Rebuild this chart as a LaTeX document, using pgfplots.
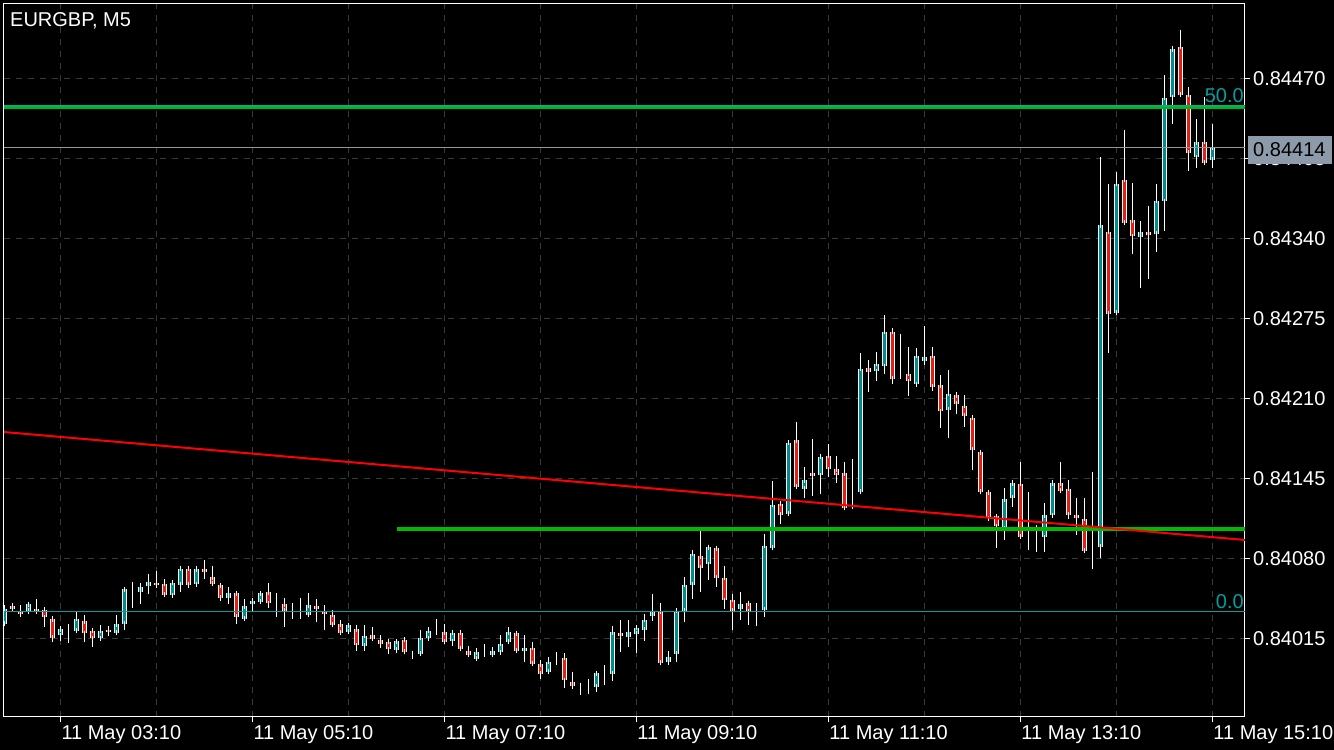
\documentclass[border=0pt]{standalone}
\usepackage{pgfplots}
\pgfplotsset{compat=1.18}
\usepackage{pgfplotstable}
\usepackage{fontspec}
\setmainfont{Liberation Sans}
\definecolor{bull}{RGB}{0,140,140}
\definecolor{bear}{RGB}{230,30,20}
\definecolor{gridc}{RGB}{58,58,58}
\definecolor{fibc}{RGB}{0,160,160}
\definecolor{boxc}{RGB}{140,154,170}
\definecolor{hgreen}{RGB}{0,185,0}
\definecolor{fibtop}{RGB}{0,175,130}
\definecolor{pline}{RGB}{150,150,150}
\pgfplotstableread{
k o h l c
0 0.84028 0.84042 0.84027 0.84040
1 0.84042 0.84043 0.84037 0.84039
2 0.84039 0.84042 0.84035 0.84036
3 0.84037 0.84042 0.84035 0.84042
4 0.84040 0.84047 0.84036 0.84038
5 0.84038 0.84038 0.84024 0.84032
6 0.84031 0.84033 0.84012 0.84016
7 0.84017 0.84025 0.84013 0.84022
8 0.84022 0.84027 0.84011 0.84022
9 0.84021 0.84037 0.84021 0.84031
10 0.84030 0.84034 0.84012 0.84020
11 0.84021 0.84022 0.84008 0.84015
12 0.84016 0.84026 0.84015 0.84022
13 0.84022 0.84025 0.84017 0.84020
14 0.84020 0.84034 0.84018 0.84027
15 0.84027 0.84056 0.84022 0.84055
16 0.84054 0.84061 0.84040 0.84054
17 0.84053 0.84060 0.84043 0.84057
18 0.84058 0.84067 0.84051 0.84061
19 0.84061 0.84070 0.84057 0.84059
20 0.84060 0.84063 0.84049 0.84051
21 0.84050 0.84060 0.84048 0.84060
22 0.84060 0.84073 0.84053 0.84073
23 0.84073 0.84074 0.84056 0.84060
24 0.84060 0.84074 0.84059 0.84072
25 0.84072 0.84079 0.84063 0.84069
26 0.84066 0.84074 0.84059 0.84061
27 0.84059 0.84060 0.84045 0.84049
28 0.84049 0.84057 0.84043 0.84053
29 0.84052 0.84053 0.84027 0.84033
30 0.84032 0.84047 0.84032 0.84042
31 0.84043 0.84048 0.84037 0.84046
32 0.84046 0.84053 0.84044 0.84053
33 0.84053 0.84060 0.84040 0.84044
34 0.84043 0.84052 0.84032 0.84043
35 0.84042 0.84048 0.84024 0.84037
36 0.84034 0.84044 0.84031 0.84034
37 0.84036 0.84048 0.84031 0.84036
38 0.84035 0.84052 0.84035 0.84043
39 0.84042 0.84047 0.84028 0.84039
40 0.84038 0.84042 0.84022 0.84035
41 0.84035 0.84038 0.84024 0.84027
42 0.84026 0.84030 0.84019 0.84019
43 0.84020 0.84027 0.84020 0.84025
44 0.84024 0.84026 0.84005 0.84011
45 0.84010 0.84026 0.84005 0.84018
46 0.84018 0.84024 0.84013 0.84015
47 0.84014 0.84018 0.84007 0.84011
48 0.84013 0.84014 0.84002 0.84007
49 0.84006 0.84014 0.84003 0.84013
50 0.84014 0.84014 0.84002 0.84004
51 0.84004 0.84005 0.83998 0.84004
52 0.84003 0.84022 0.84002 0.84016
53 0.84016 0.84024 0.84015 0.84022
54 0.84021 0.84031 0.84018 0.84021
55 0.84021 0.84027 0.84012 0.84013
56 0.84014 0.84022 0.84009 0.84021
57 0.84021 0.84022 0.84007 0.84008
58 0.84005 0.84009 0.84001 0.84002
59 0.84000 0.84007 0.83998 0.84005
60 0.84004 0.84010 0.84000 0.84004
61 0.84002 0.84008 0.84001 0.84005
62 0.84005 0.84018 0.84002 0.84012
63 0.84013 0.84024 0.84012 0.84021
64 0.84020 0.84021 0.84003 0.84006
65 0.84006 0.84018 0.83996 0.84008
66 0.84008 0.84012 0.83995 0.83995
67 0.83995 0.83997 0.83982 0.83987
68 0.83988 0.84000 0.83986 0.83996
69 0.83999 0.84004 0.83993 0.83999
70 0.84000 0.84003 0.83975 0.83982
71 0.83981 0.83988 0.83974 0.83978
72 0.83977 0.83977 0.83969 0.83977
73 0.83975 0.83982 0.83970 0.83975
74 0.83976 0.83987 0.83971 0.83987
75 0.83986 0.83993 0.83977 0.83986
76 0.83987 0.84025 0.83980 0.84021
77 0.84020 0.84030 0.84004 0.84017
78 0.84016 0.84030 0.84008 0.84020
79 0.84019 0.84025 0.84003 0.84024
80 0.84023 0.84035 0.84013 0.84031
81 0.84034 0.84051 0.84029 0.84038
82 0.84038 0.84044 0.83993 0.83996
83 0.83997 0.84005 0.83993 0.84001
84 0.84003 0.84039 0.83996 0.84038
85 0.84039 0.84065 0.84028 0.84060
86 0.84060 0.84087 0.84047 0.84085
87 0.84083 0.84102 0.84053 0.84074
88 0.84075 0.84091 0.84062 0.84089
89 0.84089 0.84090 0.84057 0.84065
90 0.84065 0.84074 0.84039 0.84047
91 0.84047 0.84051 0.84022 0.84038
92 0.84039 0.84053 0.84030 0.84043
93 0.84043 0.84044 0.84026 0.84036
94 0.84036 0.84044 0.84025 0.84036
95 0.84038 0.84100 0.84032 0.84090
96 0.84090 0.84143 0.84087 0.84125
97 0.84125 0.84125 0.84108 0.84116
98 0.84116 0.84174 0.84115 0.84174
99 0.84176 0.84191 0.84137 0.84138
100 0.84138 0.84154 0.84129 0.84145
101 0.84150 0.84177 0.84131 0.84147
102 0.84148 0.84164 0.84132 0.84163
103 0.84164 0.84173 0.84146 0.84153
104 0.84154 0.84163 0.84141 0.84149
105 0.84150 0.84158 0.84120 0.84122
106 0.84123 0.84161 0.84120 0.84123
107 0.84135 0.84247 0.84135 0.84235
108 0.84236 0.84241 0.84215 0.84233
109 0.84232 0.84248 0.84224 0.84238
110 0.84237 0.84278 0.84230 0.84265
111 0.84265 0.84267 0.84222 0.84227
112 0.84229 0.84262 0.84226 0.84229
113 0.84230 0.84252 0.84212 0.84224
114 0.84222 0.84251 0.84220 0.84245
115 0.84242 0.84269 0.84237 0.84245
116 0.84245 0.84252 0.84216 0.84220
117 0.84221 0.84229 0.84186 0.84200
118 0.84202 0.84233 0.84178 0.84215
119 0.84213 0.84215 0.84197 0.84206
120 0.84204 0.84213 0.84187 0.84196
121 0.84195 0.84196 0.84152 0.84169
122 0.84167 0.84167 0.84134 0.84135
123 0.84134 0.84135 0.84112 0.84113
124 0.84114 0.84114 0.84088 0.84106
125 0.84105 0.84137 0.84095 0.84129
126 0.84130 0.84144 0.84122 0.84142
127 0.84141 0.84158 0.84097 0.84098
128 0.84097 0.84134 0.84087 0.84097
129 0.84098 0.84107 0.84085 0.84098
130 0.84098 0.84125 0.84085 0.84116
131 0.84116 0.84144 0.84116 0.84142
132 0.84142 0.84158 0.84133 0.84136
133 0.84137 0.84144 0.84112 0.84116
134 0.84116 0.84129 0.84099 0.84114
135 0.84113 0.84129 0.84087 0.84087
136 0.84090 0.84150 0.84071 0.84090
137 0.84090 0.84406 0.84080 0.84351
138 0.84347 0.84384 0.84247 0.84280
139 0.84280 0.84394 0.84278 0.84385
140 0.84388 0.84428 0.84352 0.84353
141 0.84354 0.84385 0.84327 0.84341
142 0.84342 0.84354 0.84300 0.84346
143 0.84346 0.84366 0.84307 0.84343
144 0.84344 0.84384 0.84329 0.84371
145 0.84371 0.84473 0.84346 0.84455
146 0.84455 0.84496 0.84433 0.84494
147 0.84496 0.84509 0.84456 0.84457
148 0.84457 0.84463 0.84395 0.84410
149 0.84407 0.84437 0.84397 0.84419
150 0.84420 0.84455 0.84400 0.84403
151 0.84404 0.84433 0.84397 0.84414
}\candles
\begin{document}
\begin{tikzpicture}[font=\fontsize{20}{24}\selectfont]
\fill[black] (0,0) rectangle (1334pt,750pt);
\path[use as bounding box] (0,0) rectangle (1334pt,750pt);
\begin{axis}[
  at={(4pt,33pt)}, anchor=south west,
  scale only axis, width=1241pt, height=713pt,
  xmin=-0.04, xmax=155.09,
  ymin=0.8395106, ymax=0.8453037,
  axis line style={white, line width=1pt},
  xtick={7,31,55,79,103,127,151},
  xticklabels={11 May 03:10,11 May 05:10,11 May 07:10,11 May 09:10,11 May 11:10,11 May 13:10,11 May 15:10},
  minor xtick={19,43,67,91,115,139},
  ytick={0.84015,0.8408,0.84145,0.8421,0.84275,0.8434,0.84405,0.8447},
  yticklabels={0.84015,0.84080,0.84145,0.84210,0.84275,0.84340,0.84405,0.84470},
  xtick pos=left, ytick pos=right,
  tick align=outside, major tick length=5pt, minor tick length=0pt,
  tick style={white, line width=1pt},
  xmajorgrids, xminorgrids, ymajorgrids,
  grid style={gridc, line width=1pt, dash pattern=on 6pt off 6pt},
  minor grid style={gridc, line width=1pt, dash pattern=on 6pt off 6pt},
  xticklabel style={text=white, anchor=north west, inner sep=0pt, xshift=1pt, yshift=-3pt},
  yticklabel style={text=white, anchor=west, inner sep=0pt, xshift=3pt},
  clip=true,
]
% wicks
\addplot[draw=none, mark=none, error bars/.cd, y dir=plus, y explicit, error mark=none,
  error bar style={draw=white, solid, line width=1pt}]
  table[x=k, y=l, y error expr=\thisrow{h}-\thisrow{l}] {\candles};
% body outline
\addplot[draw=none, mark=none, error bars/.cd, y dir=both, y explicit, error mark=none,
  error bar style={draw=white, solid, line width=5pt}]
  table[x=k, y expr=(\thisrow{o}+\thisrow{c})/2, y error expr=abs(\thisrow{c}-\thisrow{o})/2] {\candles};
% bull bodies
\addplot[draw=none, mark=none, x filter/.expression={\thisrow{c}<\thisrow{o} ? nan : x},
  error bars/.cd, y dir=both, y explicit, error mark=-,
  error mark options={draw=white, solid, line width=1pt, mark size=2.5pt},
  error bar style={draw=bull, solid, line width=3pt}]
  table[x=k, y expr=(\thisrow{o}+\thisrow{c})/2, y error expr=abs(\thisrow{c}-\thisrow{o})/2] {\candles};
% bear bodies
\addplot[draw=none, mark=none, x filter/.expression={\thisrow{c}<\thisrow{o} ? x : nan},
  error bars/.cd, y dir=both, y explicit, error mark=-,
  error mark options={draw=white, solid, line width=1pt, mark size=2.5pt},
  error bar style={draw=bear, solid, line width=3pt}]
  table[x=k, y expr=(\thisrow{o}+\thisrow{c})/2, y error expr=abs(\thisrow{c}-\thisrow{o})/2] {\candles};
% objects
\addplot[fibc, line width=1pt] coordinates {(-0.04,0.840364) (155.09,0.840364)};
\addplot[pline, line width=0.8pt] coordinates {(-0.04,0.84414) (155.09,0.84414)};
\addplot[fibtop, line width=1.6pt] coordinates {(-0.04,0.844477) (155.09,0.844477)};
\addplot[hgreen, line width=2.4pt] coordinates {(-0.04,0.844461) (155.09,0.844461)};
\addplot[hgreen, line width=4pt] coordinates {(49.09,0.84104) (155.09,0.84104)};
\addplot[red, line width=2pt] coordinates {(-0.04,0.841826) (155.09,0.840949)};
\node[text=fibc, anchor=south east, inner sep=0pt] at (axis cs:155.09,0.844477) [xshift=-1pt, yshift=3pt] {50.0};
\node[text=fibc, anchor=south east, inner sep=0pt] at (axis cs:155.09,0.840364) [xshift=-1pt, yshift=3pt] {0.0};
\node[text=white, anchor=north west, inner sep=0pt] at (rel axis cs:0,1) [xshift=6pt, yshift=-8pt] {EURGBP, M5};
\end{axis}
\fill[boxc] (1248pt,586pt) rectangle (1332pt,614pt);
\node[text=black, anchor=west, inner sep=0pt] at (1253pt,600pt) {0.84414};
\end{tikzpicture}
\end{document}
